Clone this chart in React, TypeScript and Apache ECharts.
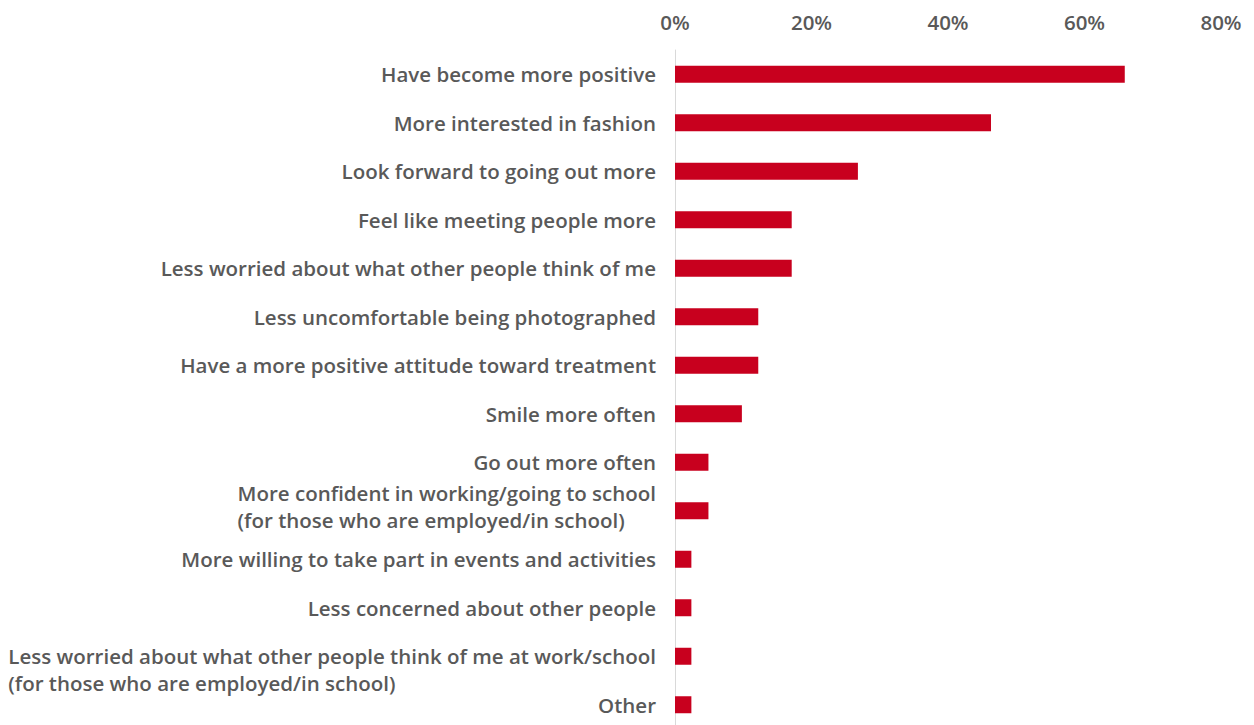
import React, { useEffect, useRef } from "react";
import * as echarts from "echarts";

const categories: string[] = [
  "Have become more positive",
  "More interested in fashion",
  "Look forward to going out more",
  "Feel like meeting people more",
  "Less worried about what other people think of me",
  "Less uncomfortable being photographed",
  "Have a more positive attitude toward treatment",
  "Smile more often",
  "Go out more often",
  "More confident in working/going to school\n(for those who are employed/in school)",
  "More willing to take part in events and activities",
  "Less concerned about other people",
  "Less worried about what other people think of me at work/school\n(for those who are employed/in school)",
  "Other",
];

const values: number[] = [65.9, 46.3, 26.8, 17.1, 17.1, 12.2, 12.2, 9.8, 4.9, 4.9, 2.4, 2.4, 2.4, 2.4];

const tickLabels: string[] = ["0%", "20%", "40%", "60%", "80%"];

const FONT = "Open Sans";
const GRAY = "#595959";
const FS = 20.5;

export default function App() {
  const ref = useRef<HTMLDivElement>(null);
  useEffect(() => {
    if (!ref.current) return;
    const chart = echarts.init(ref.current, null, { renderer: "svg" });
    const rs = { align: "left", color: GRAY, fontFamily: FONT, fontWeight: 600, fontSize: FS, lineHeight: 27 };
    chart.setOption({
      animation: false,
      backgroundColor: "#ffffff",
      grid: {
        left: 675,
        right: 33,
        top: 50,
        height: 679,
        containLabel: false,
        outerBoundsMode: "none",
      },
      xAxis: {
        type: "value",
        position: "top",
        min: 0,
        max: 80,
        interval: 20,
        axisLine: { show: false },
        axisTick: { show: false },
        splitLine: { show: false },
        axisLabel: {
          margin: 18,
          color: GRAY,
          fontFamily: FONT,
          fontWeight: 600,
          fontSize: FS,
          formatter: (v: number) => tickLabels[Math.round(v / 20)] ?? v + "%",
        },
      },
      yAxis: {
        type: "category",
        inverse: true,
        data: categories,
        axisLine: { show: true, lineStyle: { color: "#d9d9d9", width: 1 } },
        axisTick: { show: false },
        splitLine: { show: false },
        axisLabel: {
          interval: 0,
          margin: 19,
          color: GRAY,
          fontFamily: FONT,
          fontWeight: 600,
          fontSize: FS,
          formatter: (v: string, idx: number) => {
            if (v.indexOf("\n") < 0) return v;
            const lines = v.split("\n");
            if (idx === 12) {
              return "{l| }\n{l|" + lines[0] + "}\n{l|" + lines[1] + "}";
            }
            return "{l|" + lines[0] + "}\n{l|" + lines[1] + "}\n{s| }";
          },
          rich: {
            l: rs,
            s: { ...rs, fontSize: 6, lineHeight: 8 },
          },
        },
      },
      series: [
        {
          type: "bar",
          data: values,
          barWidth: 17,
          itemStyle: { color: "#C8001E" },
        },
      ],
    });
    return () => chart.dispose();
  }, []);
  return (
    <div
      ref={ref}
      style={{ position: "absolute", left: 0, top: 0, width: 1254, height: 725 }}
    />
  );
}
